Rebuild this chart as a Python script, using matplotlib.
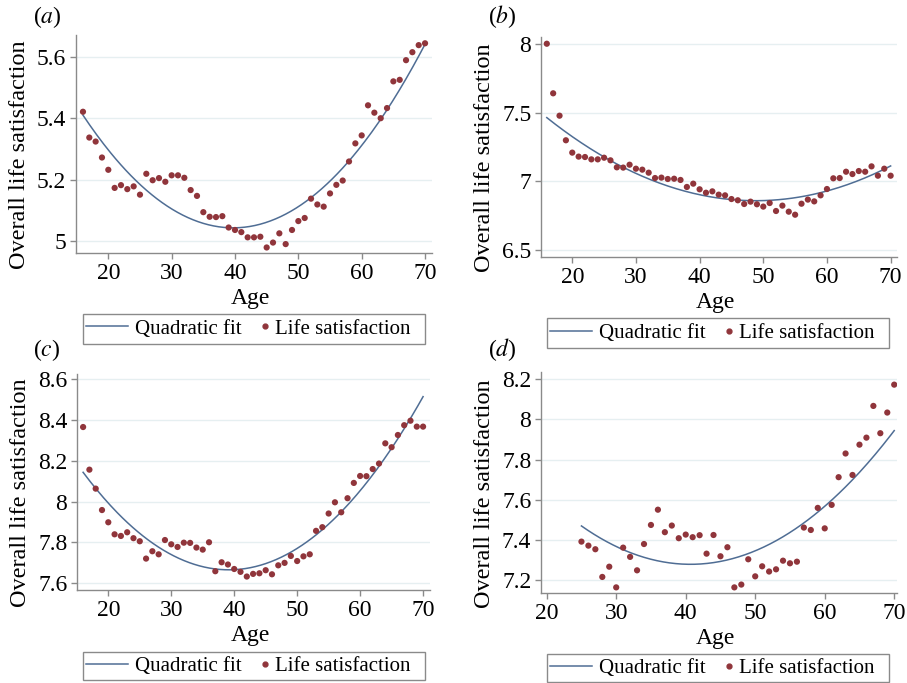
import numpy as np
import matplotlib
matplotlib.use("Agg")
import matplotlib.pyplot as plt
from matplotlib.lines import Line2D
from matplotlib.patches import Rectangle
from matplotlib.legend_handler import HandlerLine2D

plt.rcParams['font.family'] = ['Liberation Serif', 'DejaVu Serif']
plt.rcParams['mathtext.fontset'] = 'stix'

# ages
age_a = list(range(16, 71))
age_b = list(range(16, 71))
age_c = list(range(16, 71))
age_d = list(range(25, 71))

# mean life satisfaction by age
ls_a = [5.421, 5.337, 5.324, 5.272, 5.232, 5.173, 5.182, 5.169, 5.178, 5.151,
        5.219, 5.198, 5.205, 5.193, 5.214, 5.214, 5.206, 5.166, 5.147, 5.094,
        5.079, 5.078, 5.081, 5.044, 5.036, 5.029, 5.012, 5.012, 5.014, 4.979,
        4.995, 5.025, 4.990, 5.036, 5.065, 5.075, 5.138, 5.119, 5.112, 5.155,
        5.183, 5.197, 5.259, 5.318, 5.344, 5.442, 5.418, 5.400, 5.433, 5.520,
        5.525, 5.589, 5.615, 5.638, 5.644]
ls_b = [8.002, 7.641, 7.478, 7.299, 7.209, 7.180, 7.177, 7.160, 7.160, 7.172,
        7.153, 7.102, 7.100, 7.121, 7.092, 7.085, 7.063, 7.024, 7.027, 7.017,
        7.019, 7.010, 6.959, 6.983, 6.942, 6.917, 6.927, 6.903, 6.898, 6.871,
        6.862, 6.835, 6.852, 6.833, 6.816, 6.842, 6.784, 6.823, 6.779, 6.757,
        6.837, 6.867, 6.854, 6.898, 6.944, 7.022, 7.024, 7.070, 7.053, 7.075,
        7.070, 7.109, 7.041, 7.092, 7.041]
ls_c = [8.366, 8.157, 8.064, 7.959, 7.899, 7.840, 7.832, 7.850, 7.821, 7.806,
        7.721, 7.757, 7.742, 7.812, 7.791, 7.778, 7.799, 7.798, 7.775, 7.765,
        7.801, 7.659, 7.703, 7.692, 7.670, 7.656, 7.633, 7.646, 7.649, 7.664,
        7.644, 7.688, 7.700, 7.734, 7.709, 7.732, 7.742, 7.857, 7.875, 7.942,
        7.997, 7.948, 8.017, 8.092, 8.126, 8.125, 8.160, 8.187, 8.286, 8.267,
        8.327, 8.375, 8.397, 8.368, 8.368]
ls_d = [7.391, 7.371, 7.353, 7.215, 7.266, 7.163, 7.361, 7.315, 7.248, 7.379,
        7.474, 7.550, 7.438, 7.471, 7.408, 7.426, 7.413, 7.423, 7.331, 7.424,
        7.318, 7.363, 7.163, 7.177, 7.303, 7.218, 7.268, 7.242, 7.253, 7.296,
        7.283, 7.291, 7.461, 7.449, 7.559, 7.457, 7.574, 7.712, 7.830, 7.723,
        7.874, 7.909, 8.067, 7.931, 8.034, 8.173]

# quadratic fit curve, read at three ages (first, near minimum, last)
fit_age_a = [16, 40, 70]
fit_val_a = [5.410, 5.043, 5.641]
fit_age_b = [16, 49, 70]
fit_val_b = [7.464, 6.859, 7.112]
fit_age_c = [16, 41, 70]
fit_val_c = [8.144, 7.669, 8.515]
fit_age_d = [25, 41, 70]
fit_val_d = [7.469, 7.278, 7.944]

yticks_a = [5, 5.2, 5.4, 5.6]
ytl_a = ['5', '5.2', '5.4', '5.6']
yticks_b = [6.5, 7, 7.5, 8]
ytl_b = ['6.5', '7', '7.5', '8']
yticks_c = [7.6, 7.8, 8, 8.2, 8.4, 8.6]
ytl_c = ['7.6', '7.8', '8', '8.2', '8.4', '8.6']
yticks_d = [7.2, 7.4, 7.6, 7.8, 8, 8.2]
ytl_d = ['7.2', '7.4', '7.6', '7.8', '8', '8.2']
xticks = [20, 30, 40, 50, 60, 70]

line_col = '#4f6d94'
dot_col = '#90353b'
grid_col = '#e6eff1'
axis_col = '#8a8a8a'

W, H = 907, 683
fig = plt.figure(figsize=(W / 100, H / 100), dpi=100)


class DotHandler(HandlerLine2D):
    # single marker sits at the middle of xdata, so shift xdata to the right end
    def get_xdata(self, legend, xdescent, ydescent, width, height, fontsize):
        right = -xdescent + width
        off = 0.15 * fontsize
        return np.array([right - 2 * off, right]), np.array([right - off])


def px_axes(left, top, right, bottom):
    return fig.add_axes([left / W, 1 - bottom / H, (right - left) / W, (bottom - top) / H])


panels = [
    ('a', age_a, ls_a, fit_age_a, fit_val_a, yticks_a, ytl_a, (76, 35, 432, 253), (14.9, 71.1), (4.961, 5.671), (47, 17), (83, 314, 425, 344)),
    ('b', age_b, ls_b, fit_age_b, fit_val_b, yticks_b, ytl_b, (541, 37, 897, 257), (15.09, 71.0), (6.449, 8.051), (502, 17), (547, 318, 889, 348)),
    ('c', age_c, ls_c, fit_age_c, fit_val_c, yticks_c, ytl_c, (77, 374, 430, 590), (15.03, 71.1), (7.567, 8.626), (47, 350), (83, 652, 425, 680)),
    ('d', age_d, ls_d, fit_age_d, fit_val_d, yticks_d, ytl_d, (541, 372, 897, 593), (19.18, 70.4), (7.135, 8.236), (502, 350), (547, 654, 889, 682)),
]

for letter, ages, vals, fa, fv, yt, ytl, box, xl, yl, lab, lbox in panels:
    ax = px_axes(*box)
    x = np.array(ages, dtype=float)
    coef = np.polyfit(fa, fv, 2)
    xs = np.linspace(min(ages), max(ages), 200)
    ax.plot(xs, np.polyval(coef, xs), color=line_col, lw=1.1, zorder=2)
    ax.scatter(x, vals, s=20, color=dot_col, edgecolors='none', zorder=3)

    ax.set_xlim(*xl)
    ax.set_ylim(*yl)
    ax.set_xticks(xticks)
    ax.set_yticks(yt)
    ax.set_yticklabels(ytl)
    ax.grid(axis='y', color=grid_col, lw=1.0, zorder=0)
    for s in ['top', 'right']:
        ax.spines[s].set_visible(False)
    for s in ['left', 'bottom']:
        ax.spines[s].set_color(axis_col)
        ax.spines[s].set_linewidth(1.0)
    ax.tick_params(colors=axis_col, labelcolor='black', labelsize=17,
                   length=4, width=1, direction='out', pad=3)

    ax.set_ylabel('Overall life satisfaction', fontsize=17.5)
    ax.yaxis.set_label_coords(-0.13, 0.45)
    ax.set_xlabel('Age', fontsize=17)
    ax.xaxis.set_label_coords(0.49, -0.16)

    fig.text(lab[0] / W, 1 - lab[1] / H, r'($\mathit{' + letter + r'}$)',
             fontsize=17, ha='center', va='center')

    # legend below the plot, framed by a plain grey box
    fit_h = Line2D([], [], color=line_col, lw=1.1)
    dot_h = Line2D([], [], color=dot_col, marker='o', markersize=3.5, ls='none')
    x0, y0, x1, y1 = lbox
    ax.legend([fit_h, dot_h], ['Quadratic fit', 'Life satisfaction'],
              handler_map={dot_h: DotHandler(numpoints=1)},
              loc='center left', bbox_to_anchor=((x0 + 3) / W, 1 - (y0 + y1) / 2 / H),
              bbox_transform=fig.transFigure, ncol=2, fontsize=15,
              frameon=False, handlelength=2.0, handletextpad=0.35,
              columnspacing=-0.75, borderpad=0, borderaxespad=0)
    fig.add_artist(Rectangle((x0 / W, 1 - y1 / H), (x1 - x0) / W, (y1 - y0) / H,
                             transform=fig.transFigure, fill=False,
                             edgecolor=axis_col, lw=1.0))

fig.savefig('out.png', dpi=100, facecolor='white')
